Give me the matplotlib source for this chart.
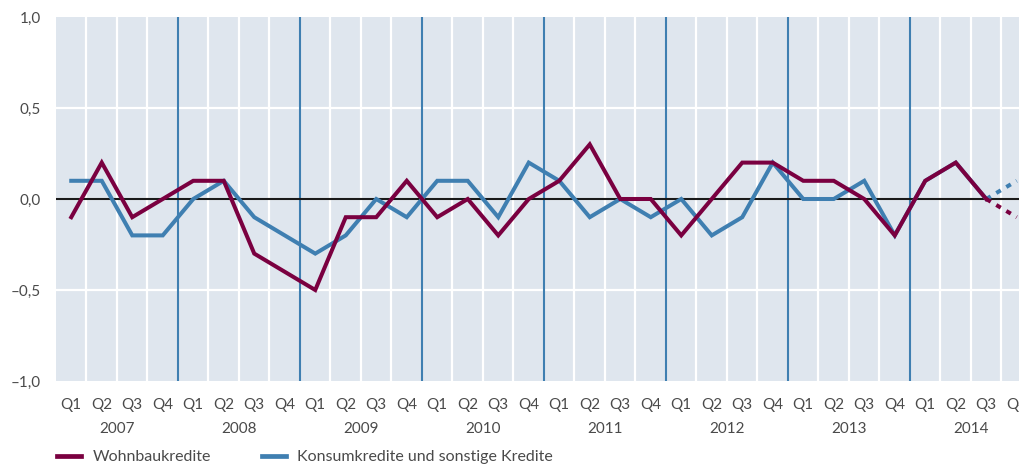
import matplotlib.pyplot as plt
from matplotlib.lines import Line2D
import matplotlib.transforms as mtransforms

# === DATEN ===
years = ["2007", "2008", "2009", "2010", "2011", "2012", "2013", "2014"]
quarters = ["Q1", "Q2", "Q3", "Q4"]

wohnbau = [-0.1, 0.2, -0.1, 0.0,
           0.1, 0.1, -0.3, -0.4,
           -0.5, -0.1, -0.1, 0.1,
           -0.1, 0.0, -0.2, 0.0,
           0.1, 0.3, 0.0, 0.0,
           -0.2, 0.0, 0.2, 0.2,
           0.1, 0.1, 0.0, -0.2,
           0.1, 0.2, 0.0, -0.1]

konsum = [0.1, 0.1, -0.2, -0.2,
          0.0, 0.1, -0.1, -0.2,
          -0.3, -0.2, 0.0, -0.1,
          0.1, 0.1, -0.1, 0.2,
          0.1, -0.1, 0.0, -0.1,
          0.0, -0.2, -0.1, 0.2,
          0.0, 0.0, 0.1, -0.2,
          0.1, 0.2, 0.0, 0.1]

y_ticks = [-1.0, -0.5, 0.0, 0.5, 1.0]
y_labels = ["\u20131,0", "\u20130,5", "0,0", "0,5", "1,0"]

# === STIL ===
RED = "#7a0040"
BLUE = "#3f7fb1"
BG = "#dfe6ee"
TXT = "#4a4a4a"
plt.rcParams["font.family"] = ["Lato", "DejaVu Sans"]

fig = plt.figure(figsize=(10.2, 4.68), dpi=100)
# rechte Kante liegt absichtlich ausserhalb der Abbildung (letztes Quartal abgeschnitten)
ax = fig.add_axes([56 / 1020, 1 - 381 / 468, (1032 - 56) / 1020, 364 / 468])
ax.set_facecolor(BG)

n = len(wohnbau)
x = list(range(n))
ax.set_xlim(-0.5, n - 0.5)
ax.set_ylim(-1.0, 1.0)

# Gitter
for yv in y_ticks[1:-1]:
    ax.axhline(yv, color="white", lw=1.6, zorder=1)
for i in range(1, n):
    if i % 4 == 0:
        ax.axvline(i - 0.5, color=BLUE, lw=1.5, zorder=2)
    else:
        ax.axvline(i - 0.5, color="white", lw=1.6, zorder=1)
ax.axhline(0, color="#1a1a1a", lw=1.5, zorder=3)

# Linien
lw = 2.9
ax.plot(x[:-1], konsum[:-1], color=BLUE, lw=lw, zorder=4, solid_joinstyle="miter")
ax.plot(x[-2:], konsum[-2:], color=BLUE, lw=lw, zorder=4, linestyle=(0, (1.3, 1.6)))
ax.plot(x[:-1], wohnbau[:-1], color=RED, lw=lw, zorder=5, solid_joinstyle="miter")
ax.plot(x[-2:], wohnbau[-2:], color=RED, lw=lw, zorder=5, linestyle=(0, (1.3, 1.6)))

for s in ax.spines.values():
    s.set_visible(False)

ax.set_yticks(y_ticks)
ax.set_yticklabels(y_labels)
ax.set_xticks(x)
ax.set_xticklabels([quarters[i % 4] for i in x])
ax.tick_params(axis="both", length=0, labelsize=11, labelcolor=TXT)
ax.tick_params(axis="x", pad=12)
ax.tick_params(axis="y", pad=11)

# Jahresbeschriftung
trans = mtransforms.blended_transform_factory(ax.transData, ax.transAxes)
for k, yr in enumerate(years):
    ax.text(4 * k + 1.5, -0.132, yr, transform=trans, ha="center", va="center",
            fontsize=11, color=TXT)

# Legende
handles = [Line2D([0], [0], color=RED, lw=3.4),
           Line2D([0], [0], color=BLUE, lw=3.4)]
fig.legend(handles, ["Wohnbaukredite", "Konsumkredite und sonstige Kredite"],
           loc="center left", bbox_to_anchor=(43 / 1020, 1 - 457 / 468), ncol=2,
           frameon=False, fontsize=11.5, handlelength=1.5, handletextpad=0.7,
           columnspacing=3.2, labelcolor=TXT)

fig.savefig("out.png", dpi=100)
